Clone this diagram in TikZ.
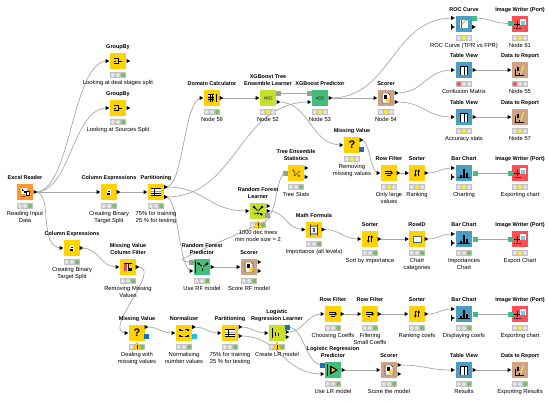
\documentclass[tikz,border=0pt]{standalone}
\usepackage{fontspec}
\setmainfont{Liberation Sans}
\usetikzlibrary{calc,backgrounds}
\definecolor{cManip}{HTML}{FFD200}
\definecolor{cSource}{HTML}{FF9632}
\definecolor{cLearn}{HTML}{C3E12D}
\definecolor{cPred}{HTML}{42BE7B}
\definecolor{cScore}{HTML}{CFA284}
\definecolor{cView}{HTML}{4B9EC2}
\definecolor{cWrite}{HTML}{FF4F55}
\definecolor{cWire}{HTML}{A8A8A8}
\definecolor{cLight}{HTML}{C2C2C2}
\definecolor{cOff}{HTML}{E6E6E6}
\definecolor{cGo}{HTML}{79BE63}
\definecolor{cWait}{HTML}{FFE82B}
\definecolor{cStop}{HTML}{F0505A}
\definecolor{cModel}{HTML}{9C9C9C}
\definecolor{cFlow}{HTML}{1B6FB5}
\definecolor{cNorm}{HTML}{25BDE3}
\definecolor{cImg}{HTML}{3FBF85}
\tikzset{
  x=1pt,y=-1pt,
  kbox/.style={rectangle,minimum size=16pt,inner sep=0pt,draw=none},
  lightbar/.style={rectangle,minimum width=16pt,minimum height=6.4pt,inner sep=0pt,fill=cLight},
  toptext/.style={inner sep=0pt,anchor=south,align=center,text=black,font=\fontsize{5.5}{7}\selectfont\bfseries},
  bottext/.style={inner sep=0pt,anchor=north,align=center,text=black,font=\fontsize{5.8}{7}\selectfont},
  wire/.style={draw=cWire,line width=0.7pt},
}
% state: 0 off, 1 red, 2 yellow, 3 green
\newcommand\knode[8]{%
  \node[kbox,fill=#4] (#1) at (#2,#3) {};
  \begin{scope}[shift={(#2,#3)},scale=.56]#5\end{scope}
  \node[lightbar] (#1-lights) at ($(#1)+(0,14)$) {};
  \fill[cOff] ($(#1-lights)+(-5.2,0)$) circle (2);
  \fill[cOff] ($(#1-lights)+(0,0)$) circle (2);
  \fill[cOff] ($(#1-lights)+(5.2,0)$) circle (2);
  \ifnum#6=1 \fill[cStop] ($(#1-lights)+(-5.2,0)$) circle (2.2);\fi
  \ifnum#6=2 \fill[cWait] ($(#1-lights)+(0,0)$) circle (2.2);\fi
  \ifnum#6=3 \fill[cGo] ($(#1-lights)+(5.2,0)$) circle (2.2);\fi
  \node[toptext] (#1-top) at ($(#1)+(0,-11)$) {#7\rule[-1.5pt]{0pt}{1.5pt}};
  \node[bottext] (#1-bot) at ($(#1)+(0,19)$) {\rule{0pt}{4.5pt}#8};
}
\newcommand\pt[4]{\coordinate (#1) at ($(#2)+(#3,#4)$);
  \fill[black] ($(#1)+(-1.8,-2)$)--($(#1)+(1.8,0)$)--($(#1)+(-1.8,2)$)--cycle;}
\newcommand\ptb[4]{\coordinate (#1) at ($(#2)+(#3,#4)$);
  \fill[black] ($(#1)+(-1.8,-2.6)$) rectangle ($(#1)+(-0.9,2.6)$);
  \fill[black] ($(#1)+(-1.8,-2)$)--($(#1)+(1.8,0)$)--($(#1)+(-1.8,2)$)--cycle;}
\newcommand\sq[5]{\coordinate (#1) at ($(#2)+(#3,#4)$);
  \fill[#5] ($(#1)+(-2.5,-2.5)$) rectangle ($(#1)+(2.5,2.5)$);}
\newcommand\warn[1]{\fill[cManip,draw=cManip!80!black,line width=.2pt] ($(#1)+(0,-4.5)$)--($(#1)+(4.6,3.2)$)--($(#1)+(-4.6,3.2)$)--cycle;
  \fill[black] ($(#1)+(-.5,-1.8)$) rectangle ($(#1)+(.5,1)$); \fill[black] ($(#1)+(-.5,1.5)$) rectangle ($(#1)+(.5,2.5)$);}
\newcommand\wired[2]{\draw[wire] let \p1=(#1),\p2=(#2),\n1={0.5*abs(\x2-\x1)} in (#1) .. controls ($(#1)+(\n1,0)$) and ($(#2)-(\n1,0)$) .. (#2);}
% icons
\newcommand\icGroup{\draw[black,line width=.9pt] (-7,-5)--(1,-5)--(1,5)--(-7,5) (-7,0)--(-3,0) (1,0)--(8,0);}
\newcommand\icColExp{\fill[white] (-4,-6) rectangle (4,6);\fill[black] (-2.5,-2.5) rectangle (2.5,0);\fill[black] (-3,2) rectangle (1.5,5);}
\newcommand\icPart{\fill[white] (-9,-7) rectangle (9,7);\fill[black] (-9,-7) rectangle (9,-5);\fill[cModel] (-9,-2) rectangle (9,0.5);\fill[black] (-9,1) rectangle (9,2);\fill[black] (-9,5.5) rectangle (9,7);\draw[black,line width=.25pt] (-2.5,-5)--(-2.5,5.5);}
\newcommand\icDomainRaw{\fill[white] (-9,-9) rectangle (5,9);\fill[black] (-9,-9) rectangle (5,-6.5);\fill[brown!70!white] (-8,-5) rectangle (4,8);\draw[black,line width=.2pt] (-4.5,-6)--(-4.5,9) (0,-6)--(0,9) (-9,-2)--(5,-2) (-9,2.5)--(5,2.5);\fill[black] (8,-9) rectangle (10,9);}
\newcommand\icDomain{\begin{scope}[scale=.85]\icDomainRaw\end{scope}}
\newcommand\icXgb{\draw[black!80,line width=.3pt] (-7,-2)--(-4,2) (-7,2)--(-4,-2) (-2.5,-2) rectangle (1,2) (2.5,-2) rectangle (7,2);}
\newcommand\icScorer{\fill[white,draw=black,line width=.35pt] (-7,-9)--(4,-9)--(7,-5)--(7,9)--(-7,9)--cycle;\fill[black] (-4,-6) rectangle (1.5,2);\fill[cWait!80!orange] (3.5,4) circle (4);}
\newcommand\icRocRaw{\fill[white] (-8,-10) rectangle (8,10);\draw[cModel,line width=.8pt] (-6,9) .. controls (-5,-1) and (-1,-7) .. (7,-8);\draw[black!60,line width=.3pt] (-7,-9.5)--(-7,9.5);}
\newcommand\icRoc{\begin{scope}[scale=.8]\icRocRaw\end{scope}}
\newcommand\icWriter{\draw[black,line width=.6pt] (-10,0)--(0,0) (-5,-5)--(-5,5);\fill[white] (-.5,-9) rectangle (10,2);\fill[cNorm!70!white] (1.5,-5) rectangle (8.5,2);\draw[black,line width=.6pt,dash pattern=on .7pt off .7pt] (-10,8)--(2,8);}
\newcommand\icTableRaw{\fill[white] (-9,-9) rectangle (9,10);\fill[black] (-9,-9) rectangle (9,-6);\fill[black] (-9,-6) rectangle (-7,10);\fill[black] (-1,-6) rectangle (1,10);\fill[black] (7,-6) rectangle (9,10);}
\newcommand\icTable{\begin{scope}[scale=.85]\icTableRaw\end{scope}}
\newcommand\icReport{\fill[black] (-9,-1) rectangle (-6.5,9);\fill[black] (-4.5,-5) rectangle (-2,1);\draw[black,line width=.4pt] (-9,9)--(8,9);\draw[cWait,line width=1pt] (1,6.5)--(7,-9);\fill[black] (-2,5) rectangle (.5,9);}
\newcommand\icMissing{\node[inner sep=0pt,text=black,font=\fontsize{11}{11}\selectfont\bfseries] at (0,0) {?};}
\newcommand\icFilterRaw{\draw[black,line width=.55pt] (-10,-5)--(9,-5) (-10,0)--(9,0) (-5,5.5)--(4,5.5);\fill[black] (5,-4.5)--(10.5,0)--(5,4.5)--cycle;}
\newcommand\icFilter{\begin{scope}[scale=.68]\icFilterRaw\end{scope}}
\newcommand\icFilterBRaw{\draw[black,line width=.55pt] (-10,-5)--(9,-5) (-10,0)--(9,0) (-4,7)--(1,7);\fill[black] (5,-4.5)--(10.5,0)--(5,4.5)--cycle;}
\newcommand\icFilterB{\begin{scope}[scale=.68]\icFilterBRaw\end{scope}}
\newcommand\icSorterRaw{\draw[black,line width=.8pt] (-5,-9)--(-5,9) (5,-6)--(5,9);\fill[black] (-9,4)--(-1,4)--(-5,11)--cycle;\fill[black] (1,-4)--(9,-4)--(5,-11)--cycle;\fill[black] (-2,-10) rectangle (0,-6);}
\newcommand\icSorter{\begin{scope}[scale=.6]\icSorterRaw\end{scope}}
\newcommand\icBar{\fill[black] (-8,3) rectangle (-3.5,8);\fill[black] (-2.2,-8) rectangle (2.2,8);\fill[black] (3.5,0) rectangle (8,8);\draw[black,line width=.4pt] (-10,8)--(10,8);}
\newcommand\icTree{\fill[cStop] (-5,-5) circle (2.5);\fill[cModel] (6,-2.5) circle (2.5);\fill[cGo!70!black] (-2,4) circle (2.3);\fill[cStop!50!black] (5,5) circle (2.2);\draw[black!70,line width=.3pt] (-5,-5)--(5,5) (-5,-5)--(-2,4) (6,-2.5)--(-2,4);}
\newcommand\icRF{\draw[black,line width=.75pt] (-7,-7)--(0,0)--(7,-7) (0,0)--(0,6) (-7,5)--(7,5);\fill[black] (-7,-7) circle (2.6);\fill[black] (7,-7) circle (2.6);\fill[cWait] (0,0) circle (1.6);\fill[black] (6,6) circle (2.3);}
\newcommand\icMath{\fill[cModel] (-8,-9) rectangle (8,9);\fill[white] (-4.5,-6) rectangle (4.5,6);\draw[black,line width=.6pt] (-6,-10)--(-6,10) (6,-10)--(6,10) (-2,-4)--(2,4) (2,-4)--(-2,4);}
\newcommand\icRowIdRaw{\fill[white] (-11,-8) rectangle (11,8);\fill[cView!60!white] (-11,-8) rectangle (11,-5.5);\draw[cView!70!black,line width=.3pt] (-11,-8) rectangle (11,8);}
\newcommand\icRowId{\begin{scope}[scale=.7]\icRowIdRaw\end{scope}}
\newcommand\icNorm{\fill[black] (-9,-7) rectangle (-5,-3);\fill[black] (5,-8) rectangle (9,-4);\fill[black] (-9,3) rectangle (-5,7);\fill[black] (5,3) rectangle (9,7);\draw[black,line width=.4pt] (-5,-5)--(-2,-5) (2,-6)--(5,-6) (-5,5)--(-2,5) (2,5)--(5,5);}
\newcommand\icColFilterRaw{\fill[white] (-10,-10) rectangle (10,10);\fill[cStop!90!black] (-9,-6) rectangle (-2,9);\fill[black] (-1,-10) rectangle (1.5,10);\fill[cWait!70!orange] (2.5,-6) rectangle (10,2);\fill[black] (-10,-10) rectangle (10,-7);\fill[black] (3,3) rectangle (9,10);}
\newcommand\icColFilter{\begin{scope}[scale=.8]\icColFilterRaw\end{scope}}
\newcommand\icRFP{\fill[black] (-12,-10) rectangle (-10,10);\draw[black,line width=.7pt] (-6,-6)--(1.5,0)--(9,-6) (1.5,0)--(1.5,8);\fill[black] (-6,-6) circle (2.5);\fill[black] (9,-6) circle (2.5);\fill[cWait] (1.5,0) circle (1.6);}
\newcommand\icLR{\fill[black] (-9,-9) rectangle (-7,9);\draw[cManip!85!orange,line width=1pt] (-5,7)--(7,-9);\fill[black] (-4,-2) rectangle (-1.5,5);\fill[black] (2,-.5) rectangle (4,5);}
\newcommand\icLRP{\fill[black] (-11,-10) rectangle (-9,10);\fill[black] (-5,-8) -- (9,0) -- (-5,8)--cycle;\fill[cManip] (-2.5,-4)--(4.5,0)--(-2.5,4)--cycle;}
\newcommand\icExcelRaw{\fill[white] (-10,-10) rectangle (4,4);\fill[black] (-7,-8) rectangle (-2,-3);\fill[black] (-2,-3) rectangle (3,2);\fill[white] (2,-2) rectangle (11,7);\draw[black,line width=.4pt] (2,-2) rectangle (11,7);\draw[black!70,line width=.6pt,dash pattern=on .7pt off .9pt] (-10,11)--(2,11);\fill[white] (-5.5,-6.5) rectangle (-3.5,-4.5);}
\newcommand\icExcel{\begin{scope}[scale=.7]\icExcelRaw\end{scope}}
\begin{document}
\begin{tikzpicture}
\useasboundingbox (0,0) rectangle (548,400);
% ---------- nodes
\knode{reader}{25}{192}{cSource}{\icExcel}{3}{Excel Reader}{Reading Input\\Data}
\pt{reader-o}{reader}{10.5}{0}
\knode{gbA}{118}{61}{cManip}{\icGroup}{3}{GroupBy}{Looking at deal stages split}
\pt{gbA-i}{gbA}{-10.5}{0}\pt{gbA-o}{gbA}{10.5}{0}
\knode{gbB}{118}{108}{cManip}{\icGroup}{3}{GroupBy}{Looking at Sources Split}
\pt{gbB-i}{gbB}{-10.5}{0}\pt{gbB-o}{gbB}{10.5}{0}
\knode{colA}{109}{192}{cManip}{\icColExp}{3}{Column Expressions}{Creating Binary\\Target Split}
\pt{colA-i}{colA}{-10.5}{0}\pt{colA-o}{colA}{9.5}{0}
\knode{partA}{156}{192}{cManip}{\icPart}{3}{Partitioning}{75\% for training\\25 \% for testing}
\pt{partA-i}{partA}{-10.5}{0}\pt{partA-o}{partA}{10}{-5}\pt{partA-p}{partA}{10}{5}
\knode{domain}{212}{98}{cManip}{\icDomain}{3}{Domain Calculator}{Node 59}
\pt{domain-i}{domain}{-10.5}{0}\pt{domain-o}{domain}{9.5}{0}
\knode{xgbL}{268}{98}{cLearn}{\icXgb}{2}{XGBoost Tree\\Ensemble Learner}{Node 52}
\pt{xgbL-i}{xgbL}{-10.5}{0}\sq{xgbL-m}{xgbL}{10.5}{-5}{cModel}\pt{xgbL-o}{xgbL}{10.5}{4}
\knode{xgbP}{320}{98}{cPred}{\icXgb}{2}{XGBoost Predictor}{Node 53}
\sq{xgbP-m}{xgbP}{-10.5}{-5}{cModel}\pt{xgbP-i}{xgbP}{-10.5}{4}\pt{xgbP-o}{xgbP}{10.5}{0}
\knode{scoreA}{386}{98}{cScore}{\icScorer}{2}{Scorer}{Node 54}
\pt{scoreA-i}{scoreA}{-10.5}{0}\pt{scoreA-o}{scoreA}{10.5}{-5}\pt{scoreA-p}{scoreA}{10.5}{4}
\knode{roc}{464}{24}{cView}{\icRoc}{2}{ROC Curve}{ROC Curve (TPR vs FPR)}
\pt{roc-i}{roc}{-11}{-6}\ptb{roc-j}{roc}{-11}{3}\sq{roc-q}{roc}{10}{-6}{cImg}\pt{roc-o}{roc}{10}{3}
\knode{imgA}{520}{24}{cWrite}{\icWriter}{2}{Image Writer (Port)}{Node 61}
\sq{imgA-i}{imgA}{-10}{-0.5}{cImg}
\knode{tblA}{464}{70}{cView}{\icTable}{1}{Table View}{Confusion Matrix}
\pt{tblA-i}{tblA}{-11}{0}\pt{tblA-o}{tblA}{10.5}{0}
\knode{repA}{520}{70}{cScore}{\icReport}{1}{Data to Report}{Node 55}
\pt{repA-i}{repA}{-10.5}{0}
\knode{tblB}{464}{117}{cView}{\icTable}{2}{Table View}{Accuracy stats}
\pt{tblB-i}{tblB}{-11}{0}\pt{tblB-o}{tblB}{10.5}{0}
\knode{repB}{520}{117}{cScore}{\icReport}{2}{Data to Report}{Node 57}
\pt{repB-i}{repB}{-10.5}{0}
\knode{missA}{352}{145}{cManip}{\icMissing}{2}{Missing Value}{Removing\\missing values}
\pt{missA-i}{missA}{-10.5}{0}\pt{missA-o}{missA}{9.5}{-5}\sq{missA-v}{missA}{9.5}{4.5}{cFlow}
\knode{rowA}{389}{173}{cManip}{\icFilter}{2}{Row Filter}{Only large\\values}
\pt{rowA-i}{rowA}{-10.5}{0}\pt{rowA-o}{rowA}{9.5}{0}
\knode{sortA}{417}{173}{cManip}{\icSorter}{2}{Sorter}{Ranking}
\pt{sortA-i}{sortA}{-10}{0}\pt{sortA-o}{sortA}{9.5}{0}
\knode{barA}{464}{173}{cView}{\icBar}{2}{Bar Chart}{Charting}
\pt{barA-i}{barA}{-11}{-5}\ptb{barA-j}{barA}{-11}{4}\sq{barA-q}{barA}{11}{0}{cImg}
\knode{imgB}{520}{173}{cWrite}{\icWriter}{2}{Image Writer (Port)}{Exporting chart}
\sq{imgB-i}{imgB}{-10}{0}{cImg}
\knode{stats}{296}{173}{cManip}{\icTree}{3}{Tree Ensemble\\Statistics}{Tree Stats}
\sq{stats-m}{stats}{-10.5}{0}{cModel}\pt{stats-o}{stats}{10.5}{-5}\pt{stats-p}{stats}{10.5}{4}
\knode{rfL}{258}{211}{cLearn}{\icRF}{3}{Random Forest\\Learner}{1000 dec trees\\min node size = 2}
\pt{rfL-i}{rfL}{-10.5}{0}\pt{rfL-o}{rfL}{10.5}{-5}\pt{rfL-p}{rfL}{10.5}{0}\sq{rfL-m}{rfL}{9.5}{4.5}{cModel}
\coordinate (rfL-w) at ($(rfL)+(0,14)$);\warn{rfL-w}
\knode{math}{314}{230}{cManip}{\icMath}{3}{Math Formula}{Importance (all levels)}
\pt{math-i}{math}{-10.5}{-0.5}\pt{math-o}{math}{9.5}{-0.5}
\knode{sortB}{370}{239}{cManip}{\icSorter}{3}{Sorter}{Sort by importance}
\pt{sortB-i}{sortB}{-10.5}{0}\pt{sortB-o}{sortB}{9.5}{0}
\knode{rowid}{417}{239}{cManip}{\icRowId}{3}{RowID}{Chart\\categories}
\pt{rowid-i}{rowid}{-10}{0}\pt{rowid-o}{rowid}{9.5}{0}
\knode{barB}{464}{239}{cView}{\icBar}{3}{Bar Chart}{Importances\\Chart}
\pt{barB-i}{barB}{-11}{-5}\ptb{barB-j}{barB}{-11}{4}\sq{barB-q}{barB}{11}{0}{cImg}
\knode{imgC}{520}{239}{cWrite}{\icWriter}{2}{Image Writer (Port)}{Export Chart}
\sq{imgC-i}{imgC}{-10}{0}{cImg}
\knode{colB}{72}{248}{cManip}{\icColExp}{3}{Column Expressions}{Creating Binary\\Target Split}
\pt{colB-i}{colB}{-10.5}{0}\pt{colB-o}{colB}{9.5}{0}
\knode{colF}{128}{267}{cManip}{\icColFilter}{3}{Missing Value\\Column Filter}{Removing Missing\\Values}
\pt{colF-i}{colF}{-10.5}{0}\pt{colF-o}{colF}{9.5}{0}
\knode{rfP}{202}{267}{cPred}{\icRFP}{3}{Random Forest\\Predictor}{Use RF model}
\sq{rfP-m}{rfP}{-10.5}{-5}{cModel}\pt{rfP-i}{rfP}{-10.5}{4}\pt{rfP-o}{rfP}{10.5}{0}
\knode{scoreB}{249}{267}{cScore}{\icScorer}{3}{Scorer}{Score RF model}
\pt{scoreB-i}{scoreB}{-10.5}{0}\pt{scoreB-o}{scoreB}{10.5}{-5}\pt{scoreB-p}{scoreB}{10.5}{4}
\knode{missB}{137}{333}{cManip}{\icMissing}{3}{Missing Value}{Dealing with\\missing values}
\pt{missB-i}{missB}{-10.5}{0}\pt{missB-o}{missB}{9.5}{-6}\sq{missB-v}{missB}{9.5}{3}{cFlow}
\coordinate (missB-w) at ($(missB)+(0,13.5)$);\warn{missB-w}
\knode{normal}{184}{333}{cManip}{\icNorm}{3}{Normalizer}{Normalising\\number values}
\pt{normal-i}{normal}{-10.5}{0}\pt{normal-o}{normal}{10}{-6}\sq{normal-v}{normal}{10}{3}{cNorm}
\knode{partB}{230}{333}{cManip}{\icPart}{3}{Partitioning}{75\% for training\\25 \% for testing}
\pt{partB-i}{partB}{-10.5}{0}\pt{partB-o}{partB}{10.5}{-6}\pt{partB-p}{partB}{10.5}{3}
\knode{lrL}{277}{333}{cLearn}{\icLR}{3}{Logistic\\Regression Learner}{Create LR model}
\pt{lrL-i}{lrL}{-10.5}{0}\sq{lrL-v}{lrL}{10.5}{-6}{cFlow}\pt{lrL-o}{lrL}{10.5}{-1}\pt{lrL-p}{lrL}{10.5}{4}
\coordinate (lrL-w) at ($(lrL)+(0,13.5)$);\warn{lrL-w}
\knode{rowB}{333}{314}{cManip}{\icFilter}{3}{Row Filter}{Choosing Coeffs}
\pt{rowB-i}{rowB}{-10.5}{0}\pt{rowB-o}{rowB}{9.5}{0}
\knode{rowC}{370}{314}{cManip}{\icFilterB}{3}{Row Filter}{Filtering\\Small Coeffs}
\pt{rowC-i}{rowC}{-10.5}{0}\pt{rowC-o}{rowC}{9.5}{0}
\knode{sortC}{417}{314}{cManip}{\icSorter}{3}{Sorter}{Ranking coefs}
\pt{sortC-i}{sortC}{-10.5}{0}\pt{sortC-o}{sortC}{9.5}{0}
\knode{barC}{464}{314}{cView}{\icBar}{3}{Bar Chart}{Displaying coefs}
\pt{barC-i}{barC}{-11}{-5}\ptb{barC-j}{barC}{-11}{4}\sq{barC-q}{barC}{11}{0}{cImg}
\knode{imgD}{520}{314}{cWrite}{\icWriter}{2}{Image Writer (Port)}{Exporting chart}
\sq{imgD-i}{imgD}{-10}{0}{cImg}
\knode{lrP}{333}{370}{cPred}{\icLRP}{3}{Logistic Regression\\Predictor}{Use LR model}
\sq{lrP-v}{lrP}{-10.5}{-5}{cFlow}\pt{lrP-i}{lrP}{-10.5}{4}\pt{lrP-o}{lrP}{10.5}{0}
\knode{scoreC}{389}{370}{cScore}{\icScorer}{3}{Scorer}{Score the model}
\pt{scoreC-i}{scoreC}{-10.5}{0}\pt{scoreC-o}{scoreC}{10.5}{-5}\pt{scoreC-p}{scoreC}{10.5}{4}
\knode{tblC}{464}{370}{cView}{\icTable}{3}{Table View}{Results}
\pt{tblC-i}{tblC}{-11}{0}\pt{tblC-o}{tblC}{10.5}{0}
\knode{repC}{520}{370}{cScore}{\icReport}{3}{Data to Report}{Exporting Results}
\pt{repC-i}{repC}{-10.5}{0}
% ---------- connectors
\begin{scope}[on background layer]
\fill[white] (0,0) rectangle (548,400);
\wired{reader-o}{gbA-i}\wired{reader-o}{gbB-i}\wired{reader-o}{colA-i}
\draw[wire] (reader-o) .. controls ($(reader-o)+(18,0)$) and ($(colB-i)-(24,0)$) .. (colB-i);
\wired{colA-o}{partA-i}\wired{partA-o}{domain-i}\wired{partA-o}{rfL-i}
\wired{partA-p}{xgbP-i}\wired{partA-p}{rfP-i}
\wired{domain-o}{xgbL-i}\wired{xgbL-m}{xgbP-m}\wired{xgbL-o}{missA-i}
\wired{xgbP-o}{scoreA-i}\wired{xgbP-o}{roc-i}
\wired{roc-q}{imgA-i}\wired{scoreA-o}{tblA-i}\wired{scoreA-p}{tblB-i}
\wired{tblA-o}{repA-i}\wired{tblB-o}{repB-i}
\wired{missA-o}{rowA-i}\wired{rowA-o}{sortA-i}\wired{sortA-o}{barA-i}\wired{barA-q}{imgB-i}
\wired{rfL-m}{stats-m}\wired{rfL-p}{math-i}
\draw[wire] (rfL-m) .. controls ($(rfL-m)+(16,1)$) and ($(rfP-m)+(38,-26)$) .. ($(rfP-m)+(-9,-3)$) .. controls ($(rfP-m)+(-10,-1)$) and ($(rfP-m)+(-6,0)$) .. (rfP-m);
\wired{math-o}{sortB-i}\wired{sortB-o}{rowid-i}\wired{rowid-o}{barB-i}\wired{barB-q}{imgC-i}
\wired{colB-o}{colF-i}\wired{rfP-o}{scoreB-i}
\draw[wire] (colF-o) .. controls ($(colF-o)+(27,0)$) and ($(missB-i)-(27,0)$) .. (missB-i);
\wired{missB-o}{normal-i}\wired{normal-o}{partB-i}\wired{partB-o}{lrL-i}\wired{partB-p}{lrP-i}
\wired{lrL-o}{rowB-i}\wired{lrL-v}{lrP-v}
\wired{rowB-o}{rowC-i}\wired{rowC-o}{sortC-i}\wired{sortC-o}{barC-i}\wired{barC-q}{imgD-i}
\wired{lrP-o}{scoreC-i}\wired{scoreC-o}{tblC-i}\wired{tblC-o}{repC-i}
\end{scope}
\end{tikzpicture}
\end{document}
